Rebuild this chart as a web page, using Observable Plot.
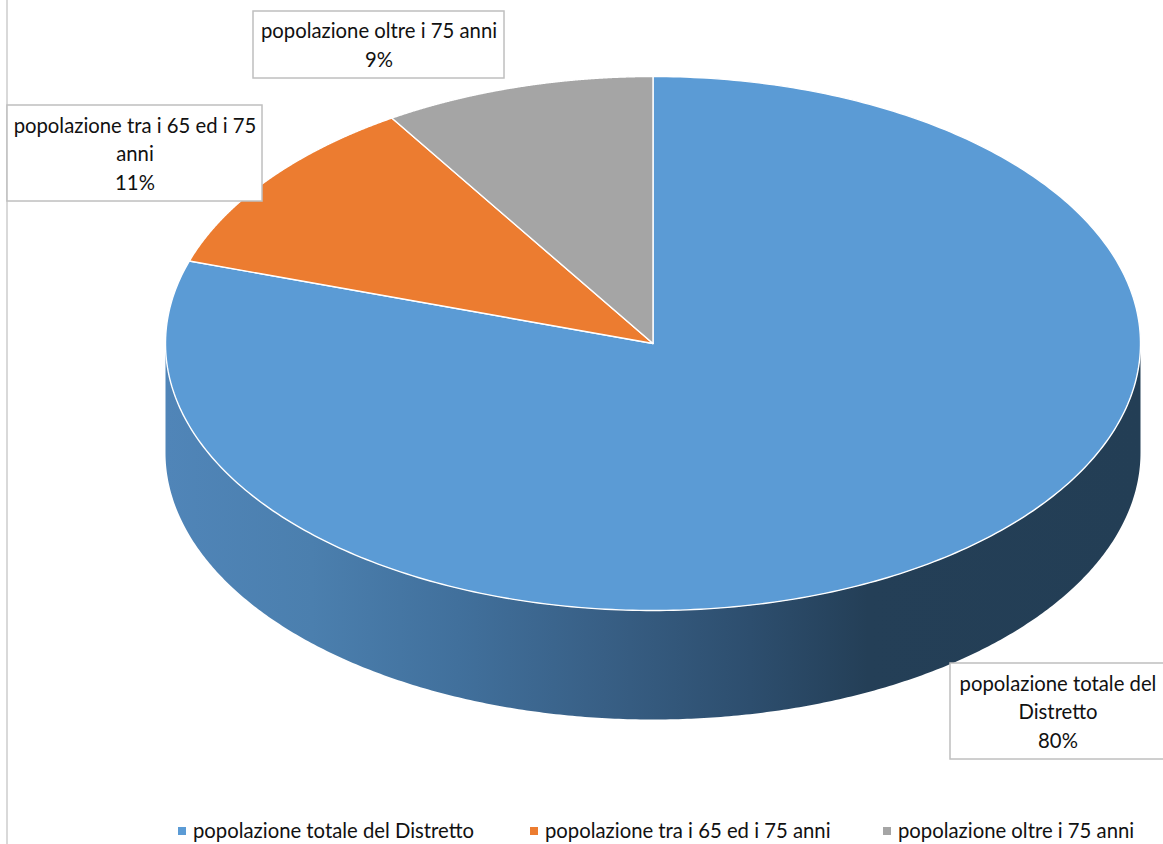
<!DOCTYPE html>
<html lang="it">
<head>
<meta charset="utf-8">
<script src="https://cdn.jsdelivr.net/npm/d3@7"></script>
<script src="https://cdn.jsdelivr.net/npm/@observablehq/plot@0.6"></script>
<style>
  html, body { margin: 0; padding: 0; background: #fff; overflow: hidden; }
  #chart { width: 1163px; position: relative; }
  #chart svg { display: block; }
  #legend {
    position: relative; height: 29px; width: 1163px;
    font: 20.3px Lato, "Open Sans", sans-serif; color: #111;
  }
  #legend .rule { position: absolute; left: 6px; top: 0; bottom: 0; width: 2px; background: #d9d9d9; }
  #legend .item { position: absolute; top: 1px; line-height: 29px; white-space: nowrap; }
  #legend .swatch { position: absolute; top: 12px; width: 8px; height: 8px; }
</style>
</head>
<body>
<div id="chart"></div>
<div id="legend"><div class="rule"></div></div>
<script>
// Popolazione del Distretto per fascia di età
const categories = [
  "popolazione totale del Distretto",
  "popolazione tra i 65 ed i 75 anni",
  "popolazione oltre i 75 anni"
];
const shares = [80, 11, 9];
const wrappedNames = [
  "popolazione totale del\nDistretto",
  "popolazione tra i 65 ed i 75\nanni",
  "popolazione oltre i 75 anni"
];
const colors = ["#5b9bd5", "#ec7c30", "#a5a5a5"];

// Tilted disc geometry
const width = 1163, height = 815;
const disc = {cx: 652.5, cy: 343, rx: 487.5, ry: 267, depth: 109};
const edge = (turn, drop = 0) => ({
  px: disc.cx + disc.rx * Math.sin(turn * 2 * Math.PI),
  py: disc.cy - disc.ry * Math.cos(turn * 2 * Math.PI) + drop
});
const arc = (from, to, drop = 0) =>
  d3.range(0, 361).map((i) => edge(from + (to - from) * i / 360, drop));

// Slices run clockwise from twelve o'clock
const total = d3.sum(shares);
let running = 0;
const slicePoints = categories.flatMap((name, i) => {
  const from = running / total;
  running += shares[i];
  const to = running / total;
  return [{px: disc.cx, py: disc.cy}, ...arc(from, to), {px: disc.cx, py: disc.cy}]
    .map((p) => ({...p, name}));
});

// Visible rim: front half of the disc, closed along the lower edge
const rim = [...arc(0.25, 0.75), ...arc(0.75, 0.25, disc.depth)];

// Light from the left, falling away to the right of the front edge
const rimStops = [
  [0, "#5085b8"], [0.15, "#4b7fae"], [0.3, "#41709c"],
  [0.45, "#385f85"], [0.6, "#2d4e6e"], [0.72, "#243f57"], [1, "#233e55"]
];
const rimGradient = () => {
  const defs = d3.create("svg:defs");
  const g = defs.append("linearGradient").attr("id", "rim-shade");
  rimStops.forEach(([o, c]) => g.append("stop").attr("offset", o).attr("stop-color", c));
  return defs.node();
};

// Data-label call-outs, one per slice
const callouts = [
  {i: 0, x1: 950, x2: 1165, y1: 663, y2: 759},
  {i: 1, x1: 7, x2: 262, y1: 105, y2: 201},
  {i: 2, x1: 253, x2: 504, y1: 11, y2: 78}
].map((b) => ({
  ...b,
  label: `${wrappedNames[b.i]}\n${shares[b.i]}%`,
  mx: (b.x1 + b.x2) / 2,
  my: (b.y1 + b.y2) / 2 - 1.5
}));

// Chart-area border along the left side
const borderRule = [{x: 6.5, y1: 0, y2: height}];

const plot = Plot.plot({
  width, height,
  margin: 0,
  x: {domain: [0, width], range: [0, width], axis: null},
  y: {domain: [0, height], range: [0, height], axis: null},
  color: {domain: categories, range: colors},
  style: {background: "transparent"},
  marks: [
    rimGradient,
    Plot.ruleX(borderRule, {x: "x", y1: "y1", y2: "y2", stroke: "#d9d9d9", strokeWidth: 2}),
    Plot.line(rim, {x: "px", y: "py", fill: "url(#rim-shade)", stroke: "none"}),
    Plot.line(slicePoints, {
      x: "px", y: "py", z: "name", fill: "name",
      stroke: "#fff", strokeWidth: 1.4, strokeLinejoin: "round"
    }),
    Plot.rect(callouts, {
      x1: "x1", x2: "x2", y1: "y1", y2: "y2",
      fill: "#fff", stroke: "#bfbfbf", strokeWidth: 1.5
    }),
    Plot.text(callouts, {
      x: "mx", y: "my", text: "label",
      fontFamily: "Lato, 'Open Sans', sans-serif", fontSize: 20.3,
      lineHeight: 1.41, fill: "#111", lineAnchor: "middle"
    })
  ]
});
document.getElementById("chart").append(plot);

// Legend row under the plot
const legendSlots = [[178, 193], [530, 545], [883, 898]];
const legend = d3.select("#legend");
categories.forEach((name, i) => {
  legend.append("span").attr("class", "swatch")
    .style("left", legendSlots[i][0] + "px").style("background", colors[i]);
  legend.append("span").attr("class", "item")
    .style("left", legendSlots[i][1] + "px").text(name);
});
</script>
</body>
</html>
